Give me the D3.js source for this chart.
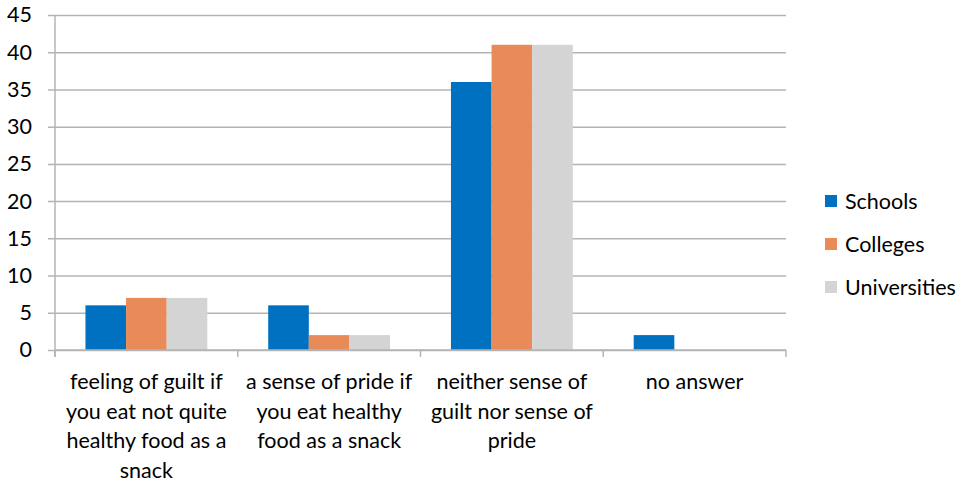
<!DOCTYPE html>
<html>
<head>
<meta charset="utf-8">
<script src="https://cdn.jsdelivr.net/npm/d3@7"></script>
<style>
  html, body { margin: 0; padding: 0; background: #fff; }
  svg { display: block; }
  text { font-family: Lato, "Open Sans", sans-serif; fill: #000; }
</style>
</head>
<body>
<svg id="chart" width="966" height="481"></svg>
<script>
// Attitudes to snacking, by type of institution
const categories = [
  "feeling of guilt if you eat not quite healthy food as a snack",
  "a sense of pride if you eat healthy food as a snack",
  "neither sense of guilt nor sense of pride",
  "no answer"
];
const categoryLines = [
  ["feeling of guilt if", "you eat not quite", "healthy food as a", "snack"],
  ["a sense of pride if", "you eat healthy", "food as a snack"],
  ["neither sense of", "guilt nor sense of", "pride"],
  ["no answer"]
];
const seriesNames = ["Schools", "Colleges", "Universities"];
const schools = [6, 6, 36, 2];
const colleges = [7, 2, 41, 0];
const universities = [7, 2, 41, 0];
const yTicks = [0, 5, 10, 15, 20, 25, 30, 35, 40, 45];
const colors = ["#0070C0", "#E98B58", "#D4D4D4"];

const seriesValues = [schools, colleges, universities];
const fontSize = 21.5;

const svg = d3.select("#chart");
const plot = { left: 55, right: 786, top: 15, bottom: 350 };

const x = d3.scaleBand()
  .domain(categories)
  .range([plot.left, plot.right])
  .paddingInner(0)
  .paddingOuter(0);

const inner = d3.scaleBand()
  .domain(seriesNames)
  .range([0, x.bandwidth()])
  .paddingOuter(0.75)
  .paddingInner(0);

const y = d3.scaleLinear().domain([0, 45]).range([plot.bottom, plot.top]);

const gridColor = "#B4B4B4";

// horizontal gridlines with short outside ticks
const yAxis = d3.axisLeft(y)
  .tickValues(yTicks)
  .tickSize(-(plot.right - plot.left))
  .tickPadding(23)
  .tickFormat(d3.format("d"));

const gy = svg.append("g")
  .attr("transform", `translate(${plot.left},0)`)
  .call(yAxis);
gy.select(".domain").remove();
gy.selectAll(".tick line")
  .attr("x1", -7)
  .attr("stroke", gridColor)
  .attr("stroke-width", 1.5);
gy.selectAll(".tick text")
  .attr("font-size", fontSize)
  .attr("font-family", "Lato, 'Open Sans', sans-serif")
  .attr("fill", "#000");

// vertical axis line
svg.append("line")
  .attr("x1", plot.left).attr("x2", plot.left)
  .attr("y1", plot.top).attr("y2", plot.bottom + 7)
  .attr("stroke", gridColor).attr("stroke-width", 1.5);

// bars
categories.forEach((c, i) => {
  seriesNames.forEach((s, j) => {
    const v = seriesValues[j][i];
    if (v <= 0) return;
    svg.append("rect")
      .attr("x", x(c) + inner(s))
      .attr("width", inner.bandwidth())
      .attr("y", y(v))
      .attr("height", y(0) - y(v))
      .attr("fill", colors[j]);
  });
});

// category axis
const xAxisLine = svg.append("g");
xAxisLine.append("line")
  .attr("x1", plot.left).attr("x2", plot.right)
  .attr("y1", y(0)).attr("y2", y(0))
  .attr("stroke", gridColor).attr("stroke-width", 1.5);
const bounds = categories.map(c => x(c)).concat([plot.right]);
bounds.forEach(b => {
  xAxisLine.append("line")
    .attr("x1", b).attr("x2", b)
    .attr("y1", y(0)).attr("y2", y(0) + 7)
    .attr("stroke", gridColor).attr("stroke-width", 1.5);
});

// wrapped category labels
categories.forEach((c, i) => {
  const cx = x(c) + x.bandwidth() / 2;
  const t = svg.append("text")
    .attr("text-anchor", "middle")
    .attr("font-size", fontSize)
    .attr("x", cx)
    .attr("y", 389);
  categoryLines[i].forEach((line, k) => {
    t.append("tspan")
      .attr("x", cx)
      .attr("dy", k === 0 ? 0 : 29.5)
      .text(line);
  });
});

// legend
const legend = svg.append("g").attr("transform", "translate(825,201)");
seriesNames.forEach((s, j) => {
  const g = legend.append("g").attr("transform", `translate(0,${j * 43})`);
  g.append("rect")
    .attr("x", 0).attr("y", -6)
    .attr("width", 12).attr("height", 12)
    .attr("fill", colors[j]);
  g.append("text")
    .attr("x", 20).attr("y", 0)
    .attr("dy", "0.35em")
    .attr("font-size", fontSize)
    .text(s);
});
</script>
</body>
</html>
